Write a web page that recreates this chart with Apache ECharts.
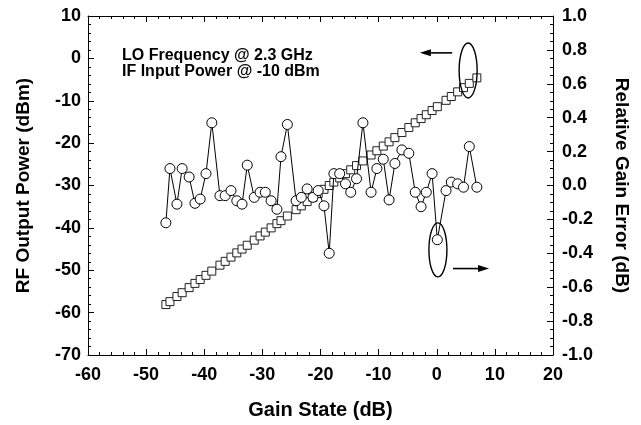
<!DOCTYPE html>
<html>
<head>
<meta charset="utf-8">
<script src="https://cdn.jsdelivr.net/npm/echarts@6/dist/echarts.min.js"></script>
<style>
  html, body { margin: 0; padding: 0; background: #fff; }
  #chart { width: 641px; height: 425px; }
</style>
</head>
<body>
<div id="chart"></div>
<script>
// Gain states (dB), shared by both series
const gainStates = [
  -46.6, -45.9, -44.7, -43.8, -42.6, -41.6, -40.7, -39.7, -38.7, -37.3,
  -36.4, -35.4, -34.4, -33.5, -32.6, -31.4, -30.4, -29.5, -28.5, -27.5,
  -26.8, -25.7, -24.2, -23.3, -22.3, -21.3, -20.4, -19.4, -18.5, -17.7,
  -16.7, -15.7, -14.8, -13.8, -12.7, -11.3, -10.3, -9.2, -8.2, -7.2,
  -6.0, -4.8, -3.7, -2.7, -1.8, -0.8, 0.1, 1.6, 2.5, 3.6,
  4.6, 5.6, 6.9
];

// RF output power (dBm), left axis, squares
const rfOutputPower = [
  -58.1, -57.4, -56.2, -55.3, -54.1, -53.1, -52.2, -51.2, -50.2, -48.8,
  -47.9, -46.9, -45.9, -45.0, -44.1, -42.9, -41.9, -41.0, -40.0, -39.0,
  -38.3, -37.2, -35.7, -34.8, -33.8, -32.8, -31.9, -30.9, -30.0, -29.2,
  -28.2, -27.2, -26.3, -25.3, -24.2, -22.8, -21.8, -20.7, -19.7, -18.7,
  -17.5, -16.3, -15.2, -14.2, -13.3, -12.3, -11.4, -9.9, -9.0, -7.9,
  -6.9, -5.9, -4.6
];

// Relative gain error (dB), right axis, circles
const gainError = [
  -0.22, 0.10, -0.11, 0.10, 0.05, -0.105, -0.08, 0.07, 0.37, -0.06,
  -0.06, -0.03, -0.09, -0.11, 0.12, -0.07, -0.04, -0.04, -0.09, -0.14,
  0.17, 0.36, -0.09, -0.07, -0.02, -0.07, -0.03, -0.12, -0.40, 0.07,
  0.07, 0.01, -0.04, 0.04, 0.37, -0.04, 0.10, 0.155, -0.085, 0.13,
  0.21, 0.19, -0.04, -0.125, -0.04, 0.07, -0.32, -0.03, 0.02, 0.01,
  -0.01, 0.23, -0.01
];

// Annotation anchors, in left-axis data units
const topEllipse = { x: 5.4, y: -2.85 };
const topArrow = { from: [2.65, 1.3], to: [-2.9, 1.3] };
const bottomEllipse = { x: 0.2, y: -45.2 };
const bottomArrow = { from: [2.8, -49.6], to: [9.0, -49.6] };

const FONT = "'Liberation Sans', Arial, sans-serif";
const BLACK = "#000";

const chart = echarts.init(document.getElementById("chart"), null, { renderer: "canvas" });

const tickStyle = { color: BLACK, width: 1 };
const labelStyle = { color: BLACK, fontSize: 18, fontWeight: "bold", fontFamily: FONT };
const nameStyle = { color: BLACK, fontSize: 19, fontWeight: "bold", fontFamily: FONT };

function xAxisBase(position) {
  return {
    type: "value",
    position,
    min: -60,
    max: 20,
    interval: 10,
    axisLine: { show: true, onZero: false, lineStyle: tickStyle },
    axisTick: { show: true, inside: true, length: 6, lineStyle: tickStyle },
    minorTick: { show: true, splitNumber: 5, length: 3, lineStyle: tickStyle },
    splitLine: { show: false },
  };
}

chart.setOption({
  animation: false,
  backgroundColor: "#fff",
  grid: { left: 88, right: 88, top: 16, bottom: 70 },
  xAxis: [
    Object.assign(xAxisBase("bottom"), {
      axisLabel: Object.assign({ margin: 11 }, labelStyle),
      name: "Gain State (dB)",
      nameLocation: "middle",
      nameGap: 45,
      nameTextStyle: Object.assign({}, nameStyle, { fontSize: 20 }),
    }),
    Object.assign(xAxisBase("top"), { axisLabel: { show: false } }),
  ],
  yAxis: [
    {
      type: "value",
      position: "left",
      min: -70,
      max: 10,
      interval: 10,
      axisLine: { show: true, onZero: false, lineStyle: tickStyle },
      axisTick: { show: true, inside: true, length: 6, lineStyle: tickStyle },
      minorTick: { show: true, splitNumber: 5, length: 3, lineStyle: tickStyle },
      splitLine: { show: false },
      axisLabel: Object.assign({ margin: 7 }, labelStyle),
      name: "RF Output Power (dBm)",
      nameLocation: "middle",
      nameGap: 55,
      nameTextStyle: nameStyle,
    },
    {
      type: "value",
      position: "right",
      min: -1,
      max: 1,
      interval: 0.2,
      axisLine: { show: true, onZero: false, lineStyle: tickStyle },
      axisTick: { show: true, inside: true, length: 6, lineStyle: tickStyle },
      minorTick: { show: true, splitNumber: 4, length: 3, lineStyle: tickStyle },
      splitLine: { show: false },
      axisLabel: Object.assign({ margin: 9, formatter: (v) => v.toFixed(1) }, labelStyle),
      name: "Relative Gain Error (dB)",
      nameLocation: "middle",
      nameGap: 59,
      nameRotate: -90,
      nameTextStyle: nameStyle,
    },
  ],
  series: [
    {
      name: "RF Output Power",
      type: "line",
      xAxisIndex: 0,
      yAxisIndex: 0,
      data: gainStates.map((g, i) => [g, rfOutputPower[i]]),
      symbol: "rect",
      symbolSize: 8,
      showAllSymbol: true,
      lineStyle: { color: BLACK, width: 1 },
      itemStyle: { color: "#fff", borderColor: "#222", borderWidth: 1 },
      z: 2,
    },
    {
      name: "Relative Gain Error",
      type: "line",
      xAxisIndex: 0,
      yAxisIndex: 1,
      data: gainStates.map((g, i) => [g, gainError[i]]),
      symbol: "circle",
      symbolSize: 10,
      showAllSymbol: true,
      lineStyle: { color: BLACK, width: 1 },
      itemStyle: { color: "#fff", borderColor: BLACK, borderWidth: 1 },
      z: 3,
    },
  ],
});

// Annotations: condition text, ellipses and arrows pointing at each axis
const px = (pt) => chart.convertToPixel({ xAxisIndex: 0, yAxisIndex: 0 }, pt);

function arrow(a) {
  const p0 = px(a.from);
  const p1 = px(a.to);
  const dir = Math.sign(p1[0] - p0[0]);
  const base = p1[0] - dir * 11;
  return [
    { type: "line", shape: { x1: p0[0], y1: p0[1], x2: base, y2: p1[1] }, style: { stroke: BLACK, lineWidth: 1.6 }, z: 10 },
    { type: "polygon", shape: { points: [[p1[0], p1[1]], [base, p1[1] - 3.5], [base, p1[1] + 3.5]] }, style: { fill: BLACK }, z: 10 },
  ];
}

function ellipse(c, rx, ry) {
  const p = px([c.x, c.y]);
  return { type: "ellipse", shape: { cx: p[0], cy: p[1], rx, ry }, style: { fill: null, stroke: BLACK, lineWidth: 1.4 }, z: 10 };
}

const textStyle = { fill: BLACK, fontSize: 16, fontWeight: "bold", fontFamily: FONT };

chart.setOption({
  graphic: [
    { type: "text", left: 122, top: 48, style: Object.assign({ text: "LO Frequency @ 2.3 GHz" }, textStyle), z: 10 },
    { type: "text", left: 122, top: 64, style: Object.assign({ text: "IF Input Power @ -10 dBm" }, textStyle), z: 10 },
    ellipse(topEllipse, 9, 27.5),
    ellipse(bottomEllipse, 9, 27),
    ...arrow(topArrow),
    ...arrow(bottomArrow),
  ],
});
</script>
</body>
</html>
